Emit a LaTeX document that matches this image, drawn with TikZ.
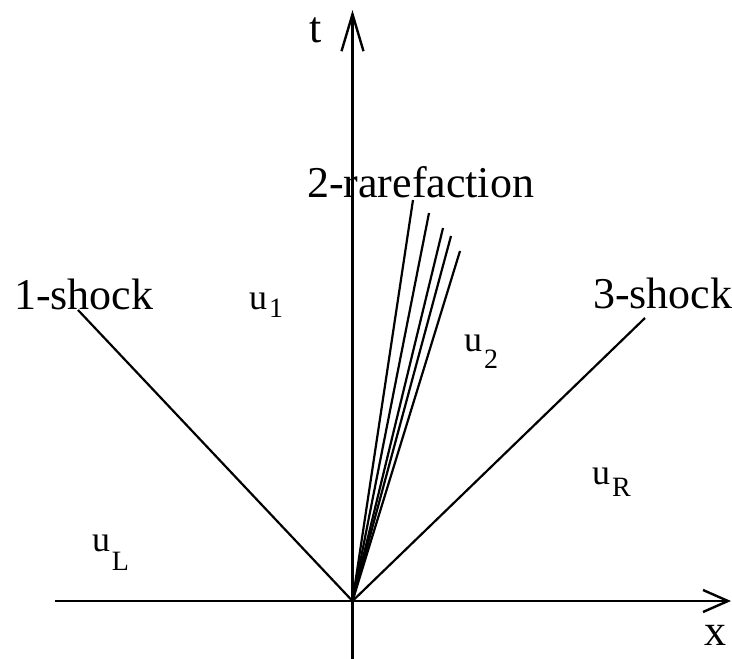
\documentclass[tikz,border=0pt]{standalone}
\usepackage{fontspec}
\setmainfont{Liberation Serif}
\usetikzlibrary{arrows.meta}
\newcommand{\bigtxt}{\fontsize{44}{50}\selectfont}
\newcommand{\ulab}[2]{\fontsize{36}{40}\selectfont u\kern2pt\raisebox{-#2pt}{\fontsize{28}{32}\selectfont #1}}
\begin{document}
\begin{tikzpicture}[x=1pt,y=-1pt,
  ln/.style={line width=2.2pt},
  ax/.style={line width=2.4pt},
  lbl/.style={anchor=base west,inner sep=0pt,outer sep=0pt}]
\useasboundingbox (0,0) rectangle (732,659);
% coordinates
\coordinate (O) at (352.5,601);
\coordinate (tb) at (352.5,659);
\coordinate (tt) at (352.5,10);
\coordinate (xl) at (55,601);
\coordinate (xr) at (731,601);
\coordinate (s1) at (78,310);
\coordinate (s3) at (645,318);
\coordinate (r1) at (413,200);
\coordinate (r2) at (429,213);
\coordinate (r3) at (443,228);
\coordinate (r4) at (451,236);
\coordinate (r5) at (460,251);
% axes
\draw[ax,-{Straight Barb[length=37pt,width=22pt]}] (tb) -- (tt);
\draw[ax,-{Straight Barb[length=25pt,width=22pt]}] (xl) -- (xr);
% waves
\draw[ln] (O) -- (s1);
\draw[ln] (O) -- (s3);
\foreach \r in {r1,r2,r3,r4,r5} \draw[ln] (O) -- (\r);
% labels
\node[lbl] (lt) at (309,42) {\bigtxt t};
\node[lbl] (lx) at (704,645) {\bigtxt x};
\node[lbl] (l1) at (14,309) {\bigtxt 1-shock};
\node[lbl] (l2) at (307,197) {\bigtxt 2-rarefaction};
\node[lbl] (l3) at (593,308) {\bigtxt 3-shock};
\node[lbl] (u1) at (249,309) {\ulab{1}{8}};
\node[lbl] (u2) at (464,351) {\ulab{2}{17}};
\node[lbl] (uL) at (92,551) {\ulab{L}{19}};
\node[lbl] (uR) at (592,484) {\ulab{R}{12}};
\end{tikzpicture}
\end{document}
